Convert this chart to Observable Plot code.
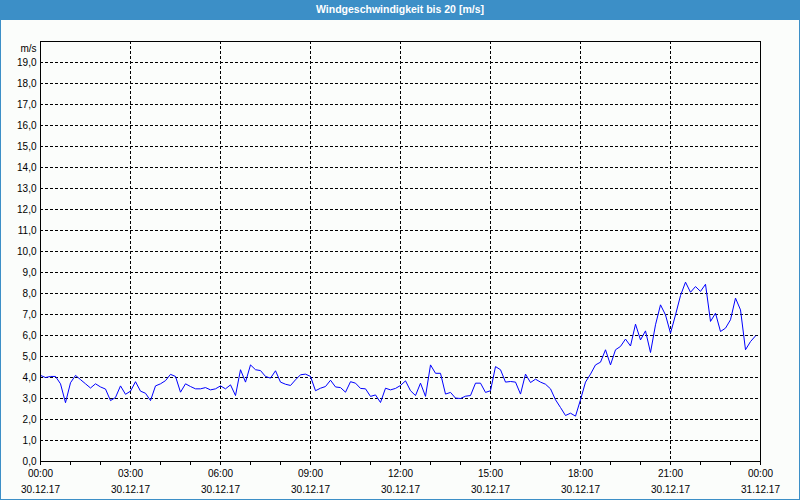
<!DOCTYPE html>
<html><head><meta charset="utf-8">
<script src="https://cdn.jsdelivr.net/npm/d3@7"></script>
<script src="https://cdn.jsdelivr.net/npm/@observablehq/plot@0.6"></script>
<style>
html,body{margin:0;padding:0;background:#fff;}
#wrap{position:relative;width:800px;height:500px;background:#fbfdfb;overflow:hidden;font-family:"Liberation Sans",Arial,sans-serif;}
#title{position:absolute;left:0;top:0;width:800px;height:20px;background:#3c8fc7;color:#fff;font-size:10.5px;font-weight:bold;line-height:19px;text-align:center;}
#chart{position:absolute;left:0;top:20px;}
#border{position:absolute;left:0;top:0;width:800px;height:500px;box-sizing:border-box;border:1px solid #3c8fc7;pointer-events:none;}
</style></head>
<body><div id="wrap"><div id="title">Windgeschwindigkeit bis 20 [m/s]</div><div id="chart"></div><div id="border"></div></div>
<script>
// Wind speed in m/s, one reading every 10 minutes from 30.12.17 00:00
const windSpeed = [
  4.1,4.0,4.05,4.05,3.7,2.8,3.75,4.1,3.9,3.7,3.5,3.7,3.55,3.45,2.9,3.05,3.6,3.2,3.35,3.8,3.35,3.25,2.9,3.6,3.7,3.85,4.15,4.05,3.3,3.7,
  3.57,3.46,3.46,3.52,3.41,3.46,3.6,3.46,3.65,3.14,4.37,3.78,4.6,4.37,4.33,4.05,3.97,4.32,3.78,3.68,3.62,3.89,4.13,4.16,4.05,3.37,3.49,3.57,3.87,3.55,
  3.52,3.3,3.8,3.73,3.48,3.46,3.1,3.17,2.81,3.49,3.41,3.48,3.62,3.84,3.37,3.14,3.73,3.1,4.6,4.2,4.2,3.21,3.29,3.02,3.0,3.11,3.14,3.73,3.73,
  3.29,3.37,4.52,4.37,3.78,3.81,3.78,3.21,4.16,3.76,3.92,3.78,3.68,3.46,2.94,2.57,2.19,2.3,2.16,2.94,3.78,4.16,4.6,4.73,5.32,4.6,5.32,
  5.48,5.83,5.5,6.54,5.79,6.22,5.19,6.51,7.46,6.98,6.11,6.98,7.9,8.54,8.06,8.33,8.1,8.44,6.67,7.06,6.19,6.35,6.75,7.78,7.22,5.32,5.71,5.98
];
const startUTC = Date.UTC(2017, 11, 30, 0, 0);
const endUTC = Date.UTC(2017, 11, 31, 0, 0);
const stepMinutes = 10;

const yTickValues = [0,1,2,3,4,5,6,7,8,9,10,11,12,13,14,15,16,17,18,19];
const yTickLabels = ["0,0","1,0","2,0","3,0","4,0","5,0","6,0","7,0","8,0","9,0","10,0","11,0","12,0","13,0","14,0","15,0","16,0","17,0","18,0","19,0"];
const yUnit = "m/s";

const xTickHours = [0,3,6,9,12,15,18,21,24];
const xTickTimes = ["00:00","03:00","06:00","09:00","12:00","15:00","18:00","21:00","00:00"];
const xTickDates = ["30.12.17","30.12.17","30.12.17","30.12.17","30.12.17","30.12.17","30.12.17","30.12.17","31.12.17"];

const data = windSpeed.map((v, i) => ({t: new Date(startUTC + i * stepMinutes * 60000), v}));
const majorTicks = xTickHours.map(h => new Date(startUTC + h * 3600000));
const minorTicks = d3.utcHour.range(new Date(startUTC), new Date(endUTC + 1));

const dash = "3,2";
const chart = Plot.plot({
  width: 800, height: 480,
  marginTop: 21, marginBottom: 39, marginLeft: 40, marginRight: 40,
  style: {background: "transparent", fontFamily: "'Liberation Sans', Arial, sans-serif", fontSize: "10px", color: "#000"},
  x: {type: "utc", domain: [new Date(startUTC), new Date(endUTC)]},
  y: {domain: [0, 20]},
  marks: [
    Plot.gridY(yTickValues.slice(1), {stroke: "#000", strokeOpacity: 1, strokeDasharray: dash}),
    Plot.gridX(majorTicks.slice(1, -1), {stroke: "#000", strokeOpacity: 1, strokeDasharray: dash}),
    Plot.axisY(yTickValues, {tickSize: 0, tickPadding: 4, label: null, tickFormat: (d, i) => yTickLabels[i]}),
    Plot.text([yUnit], {frameAnchor: "top-left", textAnchor: "end", dx: -4, dy: 3, text: d => d}),
    Plot.axisX(minorTicks, {tickSize: 4, text: null, label: null}),
    Plot.axisX(majorTicks, {tickSize: 0, tickPadding: 8, label: null, tickFormat: (d, i) => xTickTimes[i]}),
    Plot.axisX(majorTicks, {tickSize: 0, tickPadding: 24, label: null, tickFormat: (d, i) => xTickDates[i]}),
    Plot.line(data, {x: "t", y: "v", stroke: "#0000ff", strokeWidth: 1}),
    Plot.frame({stroke: "#000"})
  ]
});
document.getElementById("chart").appendChild(chart);
</script></body></html>
